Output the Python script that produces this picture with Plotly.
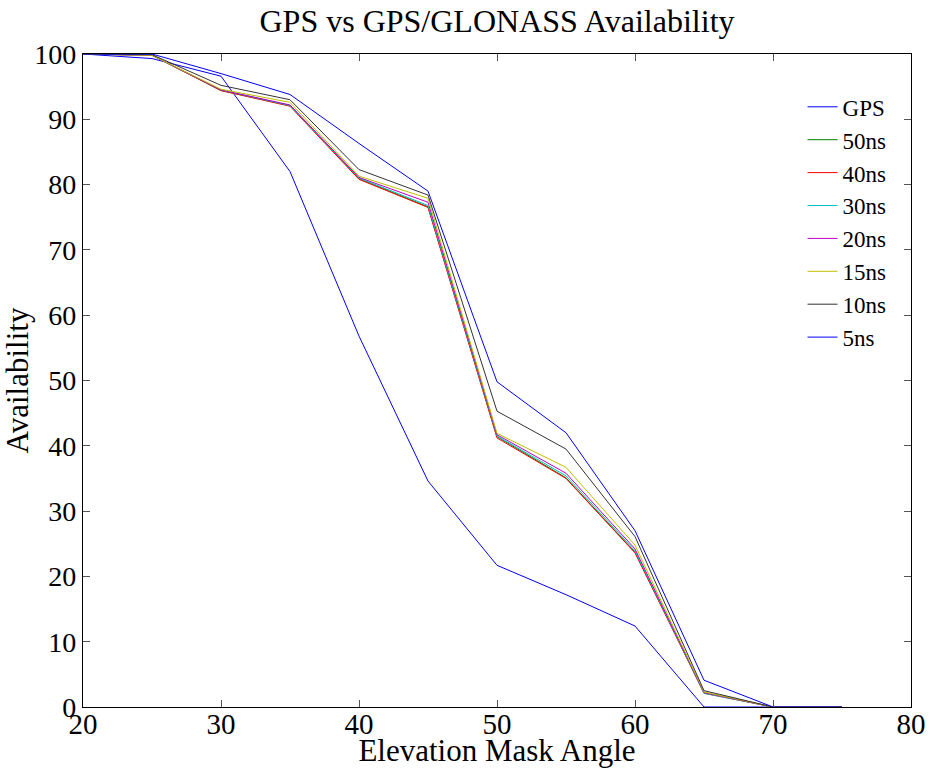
import plotly.graph_objects as go

# Data
elevation = [20, 25, 30, 35, 40, 45, 50, 55, 60, 65, 70, 75]
series_names = ["GPS", "50ns", "40ns", "30ns", "20ns", "15ns", "10ns", "5ns"]
gps = [100, 99.3, 96.6, 82.0, 56.8, 34.6, 21.7, 17.2, 12.4, 0, 0, 0]
ns50 = [100, 99.8, 94.4, 92.1, 80.9, 76.6, 41.4, 35.1, 23.7, 2.2, 0, 0]
ns40 = [100, 99.8, 94.4, 92.0, 80.8, 76.5, 41.2, 35.0, 23.6, 2.1, 0, 0]
ns30 = [100, 99.8, 94.5, 92.1, 81.0, 76.8, 41.5, 35.4, 23.9, 2.1, 0, 0]
ns20 = [100, 99.8, 94.5, 92.2, 81.1, 77.3, 41.7, 35.8, 24.2, 2.2, 0, 0]
ns15 = [100, 99.8, 94.6, 92.6, 81.3, 77.9, 41.9, 36.7, 24.8, 2.3, 0, 0]
ns10 = [100, 99.9, 95.2, 93.0, 82.3, 78.4, 45.3, 39.5, 26.1, 2.5, 0, 0]
ns5 = [100, 100, 97.0, 93.8, 86.3, 79.0, 49.8, 42.0, 27.0, 4.1, 0, 0]
x_ticks = [20, 30, 40, 50, 60, 70, 80]
y_ticks = [0, 10, 20, 30, 40, 50, 60, 70, 80, 90, 100]

all_series = [gps, ns50, ns40, ns30, ns20, ns15, ns10, ns5]
colors = ["#0000ff", "#008000", "#ff0000", "#00bfbf", "#bf00bf", "#bfbf00", "#333333", "#0000ff"]

FONT = "Liberation Serif"

fig = go.Figure()
for name, ys, c in zip(series_names, all_series, colors):
    fig.add_trace(go.Scatter(x=elevation, y=ys, mode="lines", name=name,
                             line=dict(color=c, width=1)))

axis_common = dict(
    showgrid=False, zeroline=False, showline=True, linecolor="#000000", linewidth=1.2,
    mirror="ticks", ticks="inside", ticklen=7, tickcolor="#555555", tickwidth=1,
)

fig.update_layout(
    width=930, height=768,
    margin=dict(l=83, r=19, t=54, b=61, autoexpand=False),
    paper_bgcolor="white", plot_bgcolor="white",
    title=dict(text="GPS vs GPS/GLONASS Availability", x=0.5, xref="paper",
               y=1 - 21 / 768, yanchor="middle",
               font=dict(family=FONT, size=32, color="#000000")),
    xaxis=dict(range=[20, 80], tickvals=x_ticks, ticktext=[str(v) for v in x_ticks],
               tickfont=dict(family=FONT, size=29, color="#000000"),
               ticklabelstandoff=-9,
               title=dict(text="Elevation Mask Angle", standoff=3,
                          font=dict(family=FONT, size=31, color="#000000")),
               **axis_common),
    yaxis=dict(range=[0, 100], tickvals=y_ticks, ticktext=[str(v) for v in y_ticks],
               tickfont=dict(family=FONT, size=28, color="#000000"),
               title=dict(text="Availability", standoff=0,
                          font=dict(family=FONT, size=31, color="#000000")),
               **axis_common),
    legend=dict(x=0.869, xanchor="left", y=0.952, yanchor="top",
                bgcolor="rgba(0,0,0,0)", borderwidth=0,
                font=dict(family=FONT, size=23, color="#000000"),
                tracegroupgap=0),
    showlegend=True,
)

fig.write_html("out.html")
